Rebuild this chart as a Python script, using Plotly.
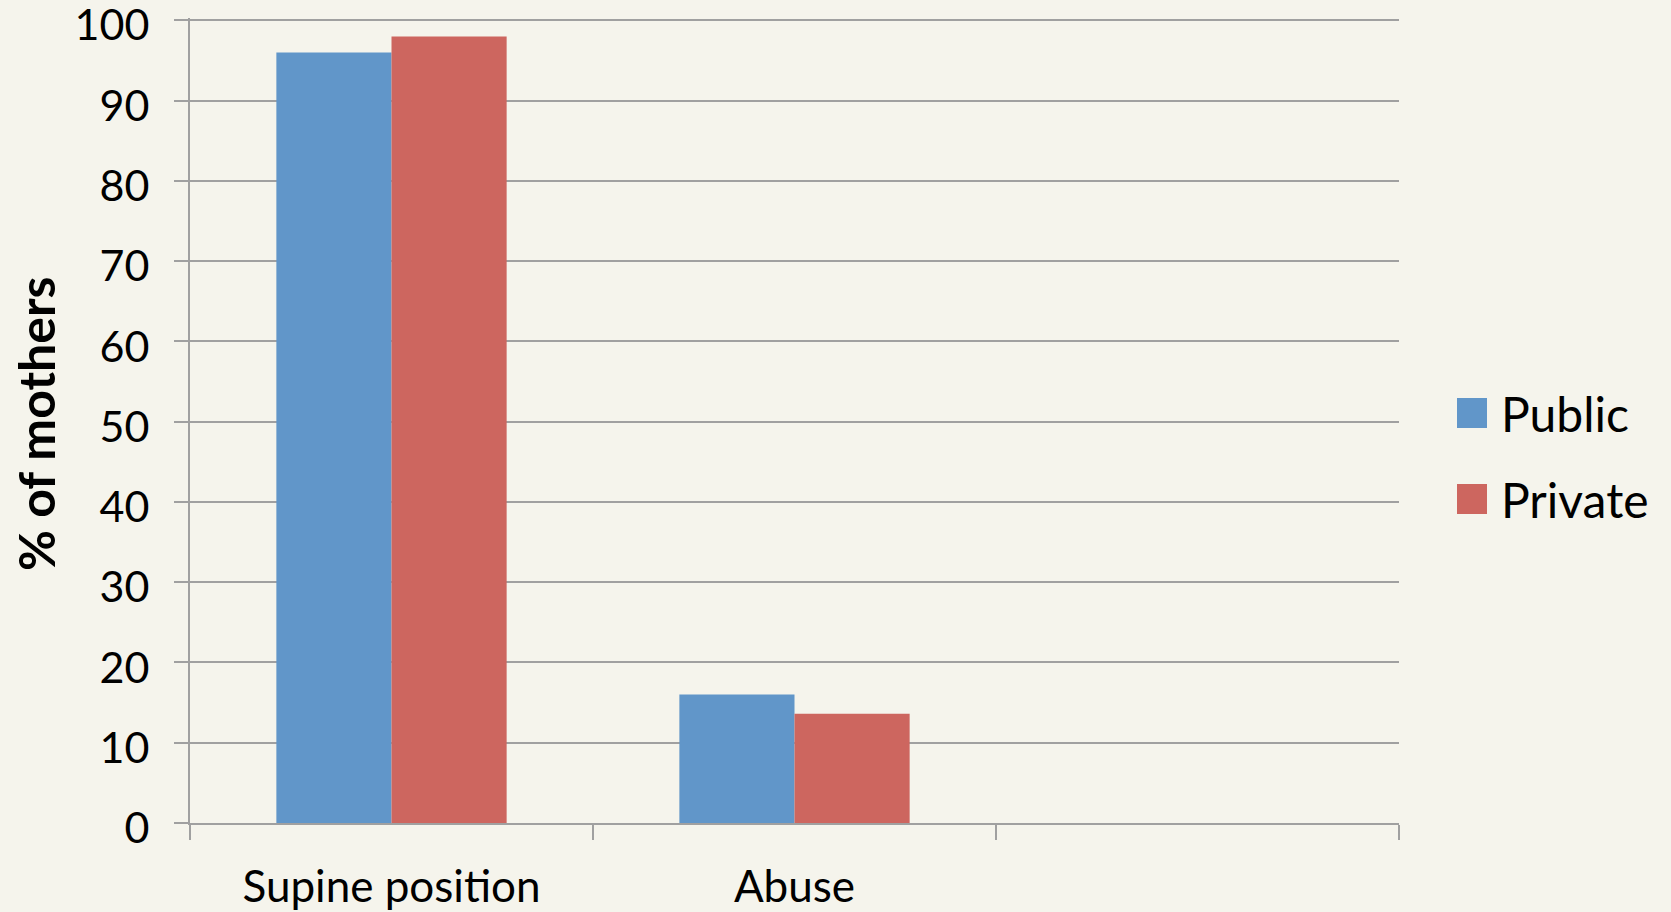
import plotly.graph_objects as go

# Categories (third slot is left empty on the axis)
categories = ["Supine position", "Abuse", " "]
public_pct = [96, 16, None]
private_pct = [98, 13.6, None]
series_names = ["Public", "Private"]
y_ticks = [0, 10, 20, 30, 40, 50, 60, 70, 80, 90, 100]
y_title = "% of mothers"

BLUE = "rgb(97,150,201)"
RED = "rgb(205,102,95)"
BG = "rgb(245,244,236)"
GRID = "rgb(160,160,160)"
FONT = "Lato, 'Open Sans', sans-serif"

L, R, T, B = 190, 272, 18, 89
W, H = 1671, 912
PW, PH = W - L - R, H - T - B

fig = go.Figure()
fig.add_trace(go.Bar(x=categories, y=public_pct, name=series_names[0],
                     marker=dict(color=BLUE, line=dict(width=0)), showlegend=False))
fig.add_trace(go.Bar(x=categories, y=private_pct, name=series_names[1],
                     marker=dict(color=RED, line=dict(width=0)), showlegend=False))

# Legend drawn as square swatches with labels to the right of the plot
legend_items = [(series_names[0], BLUE, 413), (series_names[1], RED, 499)]
for name, color, yc in legend_items:
    fig.add_shape(type="rect", xref="paper", yref="paper",
                  x0=(1457 - L) / PW, x1=(1487 - L) / PW,
                  y0=(H - B - (yc + 15)) / PH, y1=(H - B - (yc - 15)) / PH,
                  fillcolor=color, line=dict(width=0))
    fig.add_annotation(text=name, xref="paper", yref="paper",
                       x=(1499 - L) / PW, y=(H - B - yc) / PH,
                       xanchor="left", yanchor="middle", showarrow=False,
                       font=dict(family=FONT, size=48, color="black"))

# Rotated y-axis title
fig.add_annotation(text="<b>%s</b>" % y_title, xref="paper", yref="paper",
                   x=(36 - L) / PW, y=(H - B - 424) / PH, textangle=-90,
                   xanchor="center", yanchor="middle", showarrow=False,
                   font=dict(family=FONT, size=50, color="black"))

fig.update_layout(
    width=W, height=H,
    margin=dict(l=L, r=R, t=T, b=B, autoexpand=False),
    paper_bgcolor=BG, plot_bgcolor=BG,
    barmode="group", bargap=0.4286, bargroupgap=0,
    font=dict(family=FONT, size=44, color="black"),
)
fig.update_xaxes(
    categoryorder="array", categoryarray=categories, automargin=False,
    showline=True, linecolor=GRID, linewidth=2,
    ticks="outside", tickson="boundaries", ticklen=15, tickcolor=GRID, tickwidth=2,
    showgrid=False, tickfont=dict(family=FONT, size=44, color="black"),
    ticklabelstandoff=24,
)
fig.update_yaxes(
    range=[0, 100.3], tickvals=y_ticks, automargin=False,
    showline=True, linecolor=GRID, linewidth=2,
    ticks="outside", ticklen=14, tickcolor=GRID, tickwidth=2,
    showgrid=True, gridcolor=GRID, gridwidth=2, zeroline=False,
    tickfont=dict(family=FONT, size=43, color="black"),
    ticklabelstandoff=16, ticklabeloverflow="allow", ticklabelshift=5,
)

fig.write_html("out.html")
